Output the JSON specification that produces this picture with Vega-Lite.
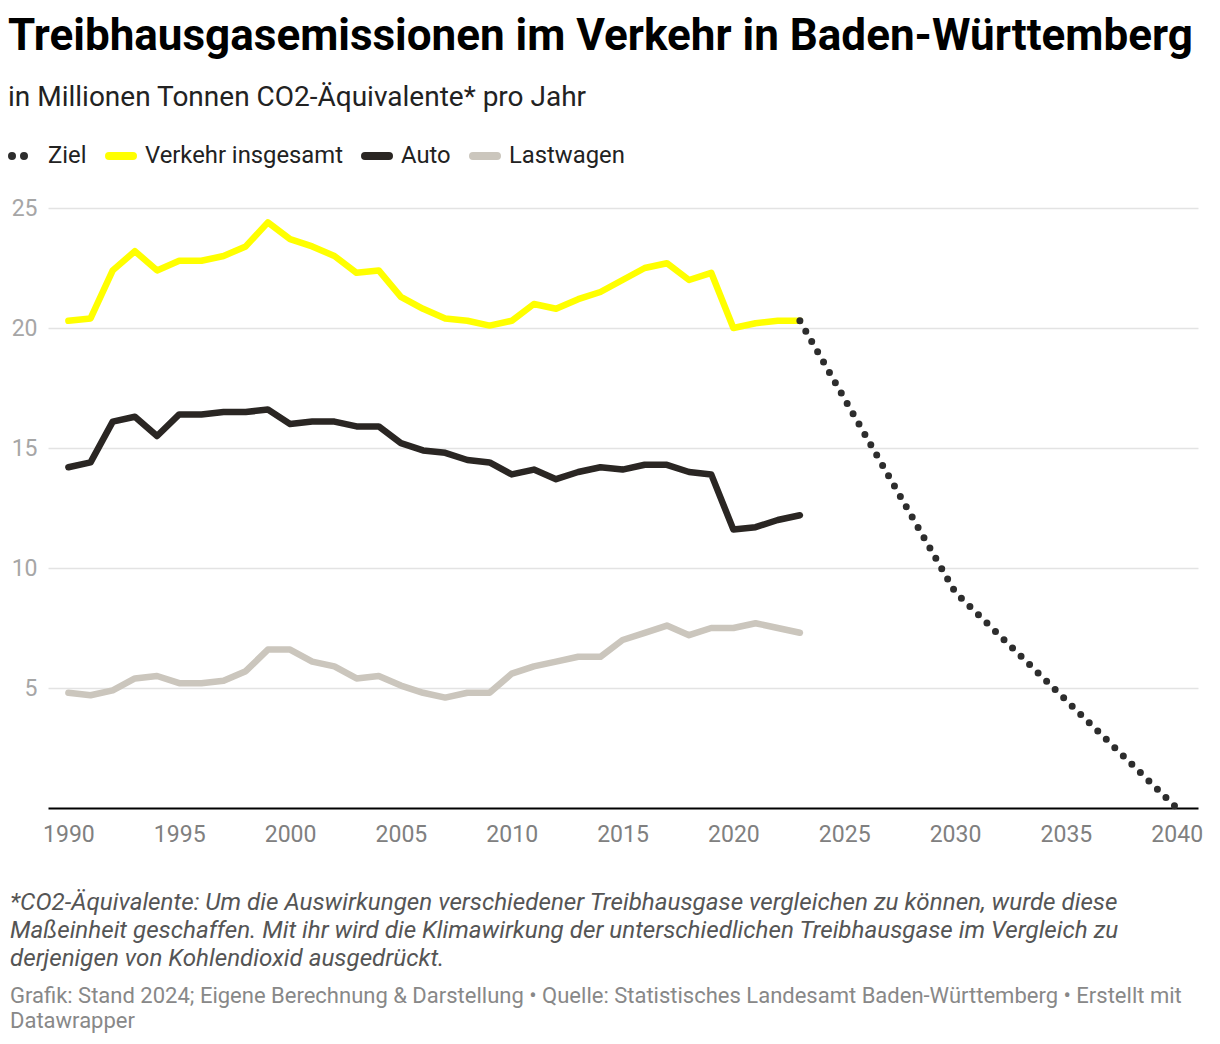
{
  "$schema": "https://vega.github.io/schema/vega-lite/v6.json",
  "padding": {"left": 8, "top": 15, "right": 10, "bottom": 5},
  "background": "#ffffff",
  "config": {"view": {"stroke": null}, "font": "Roboto"},
  "title": {
    "text": "Treibhausgasemissionen im Verkehr in Baden-Württemberg",
    "subtitle": "in Millionen Tonnen CO2-Äquivalente* pro Jahr",
    "anchor": "start",
    "font": "Roboto",
    "fontSize": 44,
    "fontWeight": "bold",
    "color": "#000000",
    "subtitleFont": "Roboto",
    "subtitleFontSize": 28,
    "subtitleColor": "#222222",
    "subtitlePadding": 25,
    "offset": 28
  },
  "datasets": {
    "ist": [
      {"Jahr": 1990, "Verkehr insgesamt": 20.3, "Auto": 14.2, "Lastwagen": 4.8},
      {"Jahr": 1991, "Verkehr insgesamt": 20.4, "Auto": 14.4, "Lastwagen": 4.7},
      {"Jahr": 1992, "Verkehr insgesamt": 22.4, "Auto": 16.1, "Lastwagen": 4.9},
      {"Jahr": 1993, "Verkehr insgesamt": 23.2, "Auto": 16.3, "Lastwagen": 5.4},
      {"Jahr": 1994, "Verkehr insgesamt": 22.4, "Auto": 15.5, "Lastwagen": 5.5},
      {"Jahr": 1995, "Verkehr insgesamt": 22.8, "Auto": 16.4, "Lastwagen": 5.2},
      {"Jahr": 1996, "Verkehr insgesamt": 22.8, "Auto": 16.4, "Lastwagen": 5.2},
      {"Jahr": 1997, "Verkehr insgesamt": 23.0, "Auto": 16.5, "Lastwagen": 5.3},
      {"Jahr": 1998, "Verkehr insgesamt": 23.4, "Auto": 16.5, "Lastwagen": 5.7},
      {"Jahr": 1999, "Verkehr insgesamt": 24.4, "Auto": 16.6, "Lastwagen": 6.6},
      {"Jahr": 2000, "Verkehr insgesamt": 23.7, "Auto": 16.0, "Lastwagen": 6.6},
      {"Jahr": 2001, "Verkehr insgesamt": 23.4, "Auto": 16.1, "Lastwagen": 6.1},
      {"Jahr": 2002, "Verkehr insgesamt": 23.0, "Auto": 16.1, "Lastwagen": 5.9},
      {"Jahr": 2003, "Verkehr insgesamt": 22.3, "Auto": 15.9, "Lastwagen": 5.4},
      {"Jahr": 2004, "Verkehr insgesamt": 22.4, "Auto": 15.9, "Lastwagen": 5.5},
      {"Jahr": 2005, "Verkehr insgesamt": 21.3, "Auto": 15.2, "Lastwagen": 5.1},
      {"Jahr": 2006, "Verkehr insgesamt": 20.8, "Auto": 14.9, "Lastwagen": 4.8},
      {"Jahr": 2007, "Verkehr insgesamt": 20.4, "Auto": 14.8, "Lastwagen": 4.6},
      {"Jahr": 2008, "Verkehr insgesamt": 20.3, "Auto": 14.5, "Lastwagen": 4.8},
      {"Jahr": 2009, "Verkehr insgesamt": 20.1, "Auto": 14.4, "Lastwagen": 4.8},
      {"Jahr": 2010, "Verkehr insgesamt": 20.3, "Auto": 13.9, "Lastwagen": 5.6},
      {"Jahr": 2011, "Verkehr insgesamt": 21.0, "Auto": 14.1, "Lastwagen": 5.9},
      {"Jahr": 2012, "Verkehr insgesamt": 20.8, "Auto": 13.7, "Lastwagen": 6.1},
      {"Jahr": 2013, "Verkehr insgesamt": 21.2, "Auto": 14.0, "Lastwagen": 6.3},
      {"Jahr": 2014, "Verkehr insgesamt": 21.5, "Auto": 14.2, "Lastwagen": 6.3},
      {"Jahr": 2015, "Verkehr insgesamt": 22.0, "Auto": 14.1, "Lastwagen": 7.0},
      {"Jahr": 2016, "Verkehr insgesamt": 22.5, "Auto": 14.3, "Lastwagen": 7.3},
      {"Jahr": 2017, "Verkehr insgesamt": 22.7, "Auto": 14.3, "Lastwagen": 7.6},
      {"Jahr": 2018, "Verkehr insgesamt": 22.0, "Auto": 14.0, "Lastwagen": 7.2},
      {"Jahr": 2019, "Verkehr insgesamt": 22.3, "Auto": 13.9, "Lastwagen": 7.5},
      {"Jahr": 2020, "Verkehr insgesamt": 20.0, "Auto": 11.6, "Lastwagen": 7.5},
      {"Jahr": 2021, "Verkehr insgesamt": 20.2, "Auto": 11.7, "Lastwagen": 7.7},
      {"Jahr": 2022, "Verkehr insgesamt": 20.3, "Auto": 12.0, "Lastwagen": 7.5},
      {"Jahr": 2023, "Verkehr insgesamt": 20.3, "Auto": 12.2, "Lastwagen": 7.3}
    ],
    "ziel": [
      {"Jahr": 2023, "Reihe": "Ziel", "Wert": 20.3},
      {"Jahr": 2030, "Reihe": "Ziel", "Wert": 9.0},
      {"Jahr": 2040, "Reihe": "Ziel", "Wert": 0}
    ]
  },
  "spacing": 45,
  "vconcat": [
    {
      "width": 1150,
      "height": 600,
      "encoding": {
        "x": {
          "field": "Jahr",
          "type": "quantitative",
          "scale": {"domain": [1989.08, 2040.96], "nice": false, "zero": false},
          "axis": {
            "title": null,
            "values": [1990, 1995, 2000, 2005, 2010, 2015, 2020, 2025, 2030, 2035, 2040],
            "format": "d",
            "grid": false,
            "ticks": false,
            "domain": true,
            "domainColor": "#000000",
            "domainWidth": 2,
            "labelFont": "Roboto",
            "labelFontSize": 23,
            "labelColor": "#808080",
            "labelPadding": 15
          }
        },
        "y": {
          "field": "Wert",
          "type": "quantitative",
          "scale": {"domain": [0, 25], "nice": false},
          "axis": {
            "title": null,
            "values": [5, 10, 15, 20, 25],
            "grid": true,
            "gridColor": "#e3e3e3",
            "gridWidth": 1.5,
            "ticks": false,
            "domain": false,
            "labelFont": "Roboto",
            "labelFontSize": 23,
            "labelColor": "#a6a6a6",
            "labelPadding": 11,
            "labelAlign": "right",
            "labelBaseline": "middle"
          }
        },
        "color": {
          "field": "Reihe",
          "type": "nominal",
          "scale": {
            "domain": ["Ziel", "Verkehr insgesamt", "Auto", "Lastwagen"],
            "range": ["#2d2d2d", "#ffff00", "#2a2623", "#cbc6bd"]
          },
          "legend": {
            "title": null,
            "orient": "none",
            "legendX": -40,
            "legendY": -68,
            "direction": "horizontal",
            "symbolType": "stroke",
            "symbolSize": 576,
            "symbolStrokeWidth": 8,
            "labelFont": "Roboto",
            "labelFontSize": 23.8,
            "labelColor": "#222222",
            "labelLimit": 400,
            "labelOffset": 8,
            "columnPadding": 6,
            "encode": {
              "symbols": {
                "update": {
                  "strokeCap": {"value": "round"},
                  "strokeDash": {"signal": "datum.value === 'Ziel' ? [0, 12] : [1, 0]"}
                }
              }
            }
          }
        }
      },
      "layer": [
        {
          "data": {"name": "ist"},
          "transform": [{"fold": ["Verkehr insgesamt", "Auto", "Lastwagen"], "as": ["Reihe", "Wert"]}],
          "mark": {"type": "line", "strokeWidth": 6.5, "strokeCap": "round", "strokeJoin": "round"}
        },
        {
          "data": {"name": "ziel"},
          "mark": {"type": "line", "strokeWidth": 7, "strokeCap": "round", "strokeDash": [0, 11.9]}
        }
      ]
    },
    {
      "width": 1150,
      "height": 1,
      "data": {"name": "ziel"},
      "mark": {"type": "text", "text": "", "opacity": 0},
      "title": {
        "text": [
          "*CO2-Äquivalente: Um die Auswirkungen verschiedener Treibhausgase vergleichen zu können, wurde diese",
          "Maßeinheit geschaffen. Mit ihr wird die Klimawirkung der unterschiedlichen Treibhausgase im Vergleich zu",
          "derjenigen von Kohlendioxid ausgedrückt."
        ],
        "subtitle": [
          "Grafik: Stand 2024; Eigene Berechnung & Darstellung • Quelle: Statistisches Landesamt Baden-Württemberg • Erstellt mit",
          "Datawrapper"
        ],
        "anchor": "start",
        "dx": -38,
        "font": "Roboto",
        "fontSize": 24.2,
        "fontStyle": "italic",
        "fontWeight": "normal",
        "color": "#555555",
        "lineHeight": 28,
        "subtitleFont": "Roboto",
        "subtitleFontSize": 22,
        "subtitleColor": "#888888",
        "subtitleLineHeight": 25,
        "subtitlePadding": 14,
        "offset": 0
      }
    }
  ]
}
